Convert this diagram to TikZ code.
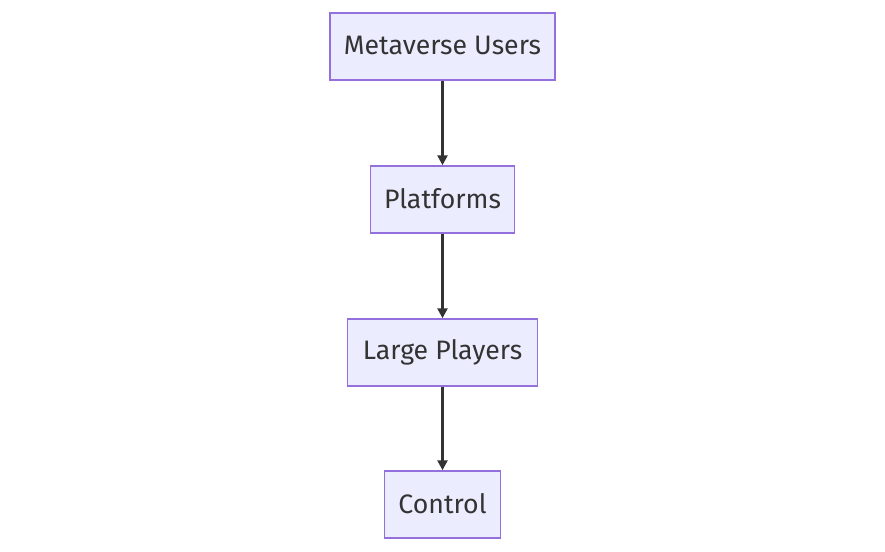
\documentclass[tikz,border=0pt]{standalone}
\usepackage{fontspec}
\setmainfont{Fira Sans}
\usetikzlibrary{arrows.meta}
\definecolor{nodefill}{HTML}{ECECFF}
\definecolor{nodeborder}{HTML}{9370DB}
\definecolor{textcol}{HTML}{333333}
\begin{document}
\begin{tikzpicture}[x=0.75pt,y=-0.75pt,
  box/.style={draw=nodeborder,fill=nodefill,line width=1.1pt,minimum height=50.25pt,inner xsep=0pt,text=textcol,font=\fontsize{20pt}{22pt}\selectfont},
  conn/.style={draw=textcol,line width=1.9pt,-{Triangle[length=7.5pt,width=7.5pt]}}]
\useasboundingbox (0,0) rectangle (885,552);
\node[box,minimum width=168.75pt] (users) at (442.5,46.5) {\raisebox{1.5pt}{Metaverse Users}};
\node[box,minimum width=108pt] (plat) at (442.5,199.5) {\raisebox{1.5pt}{Platforms}};
\node[box,minimum width=142.5pt] (large) at (442.5,352.5) {\raisebox{1.5pt}{Large Players}};
\node[box,minimum width=87pt] (ctrl) at (442.5,504.5) {\raisebox{1.5pt}{Control}};
\draw[conn] (users) -- (plat);
\draw[conn] (plat) -- (large);
\draw[conn] (large) -- (ctrl);
\end{tikzpicture}
\end{document}
